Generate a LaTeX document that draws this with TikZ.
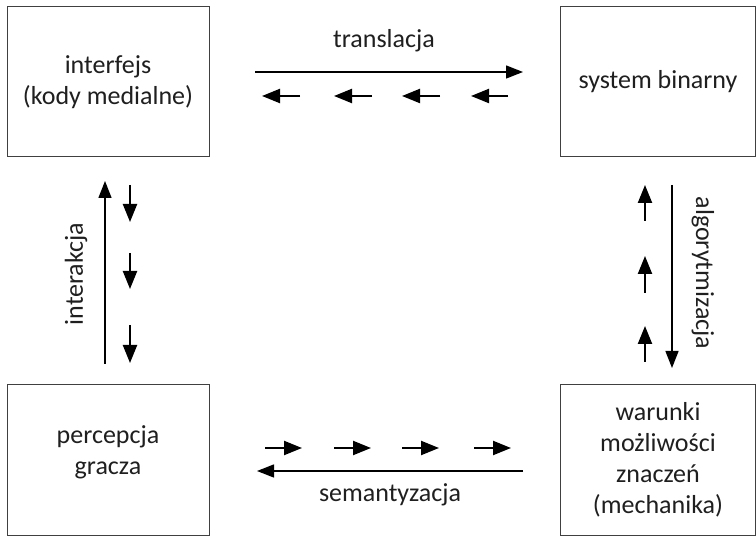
\documentclass[tikz,border=0pt]{standalone}
\usepackage{fontspec}
\setmainfont{Carlito}
\usetikzlibrary{arrows.meta}
\begin{document}
\begin{tikzpicture}[x=1pt,y=-1pt,
  box/.style={draw=black!75, line width=1pt, fill=white, inner sep=0pt, outer sep=0pt},
  lbl/.style={font=\fontsize{26}{31}\selectfont, text=black!88, align=center, inner sep=0pt},
  mainarrow/.style={line width=1.4pt, -{Triangle[length=17pt,width=13pt]}},
  smallarrow/.style={line width=2.2pt, -{Triangle[length=18pt,width=14pt]}}]
\useasboundingbox (0,0) rectangle (756,537);
% boxes
\draw[box] (7,7) rectangle (209,157);
\draw[box] (560,7) rectangle (755.5,157);
\draw[box] (7,385) rectangle (209,536);
\draw[box] (560,385) rectangle (755.5,536);
\node[lbl] (iface) at (108,82) {interfejs\\(kody medialne)};
\node[lbl] (bin) at (658,82) {system binarny};
\node[lbl] (perc) at (108,452) {percepcja\\gracza};
\node[lbl] (mech) at (658,460) {warunki\\możliwości\\znaczeń\\(mechanika)};
% top
\coordinate (t1) at (255,72); \coordinate (t2) at (523,72);
\draw[mainarrow] (t1) -- (t2);
\node[lbl, anchor=base] (ltrans) at (384,48) {translacja};
\foreach \a/\b in {300/262,372/334,440/402,508/471}{
  \coordinate (ts\a) at (\a,96); \coordinate (te\a) at (\b,96);
  \draw[smallarrow] (ts\a) -- (te\a);}
% bottom
\coordinate (b1) at (523,471); \coordinate (b2) at (257,471);
\draw[mainarrow] (b1) -- (b2);
\node[lbl, anchor=base] (lsem) at (390,502) {semantyzacja};
\foreach \a/\b in {265/302,334/371,402/439,474/511}{
  \coordinate (bs\a) at (\a,448); \coordinate (be\a) at (\b,448);
  \draw[smallarrow] (bs\a) -- (be\a);}
% left
\coordinate (l1) at (105,364); \coordinate (l2) at (105,181);
\draw[mainarrow] (l1) -- (l2);
\node[lbl, rotate=90] (linter) at (76,274) {interakcja};
\foreach \a/\b in {185/222,253/289,325/363}{
  \coordinate (ls\a) at (130,\a); \coordinate (le\a) at (130,\b);
  \draw[smallarrow] (ls\a) -- (le\a);}
% right
\coordinate (r1) at (672,185); \coordinate (r2) at (672,368);
\draw[mainarrow] (r1) -- (r2);
\node[lbl, rotate=-90] (lalg) at (703,273) {algorytmizacja};
\foreach \a/\b in {221/185,293/256,362/326}{
  \coordinate (rs\a) at (645,\a); \coordinate (re\a) at (645,\b);
  \draw[smallarrow] (rs\a) -- (re\a);}
\end{tikzpicture}
\end{document}
